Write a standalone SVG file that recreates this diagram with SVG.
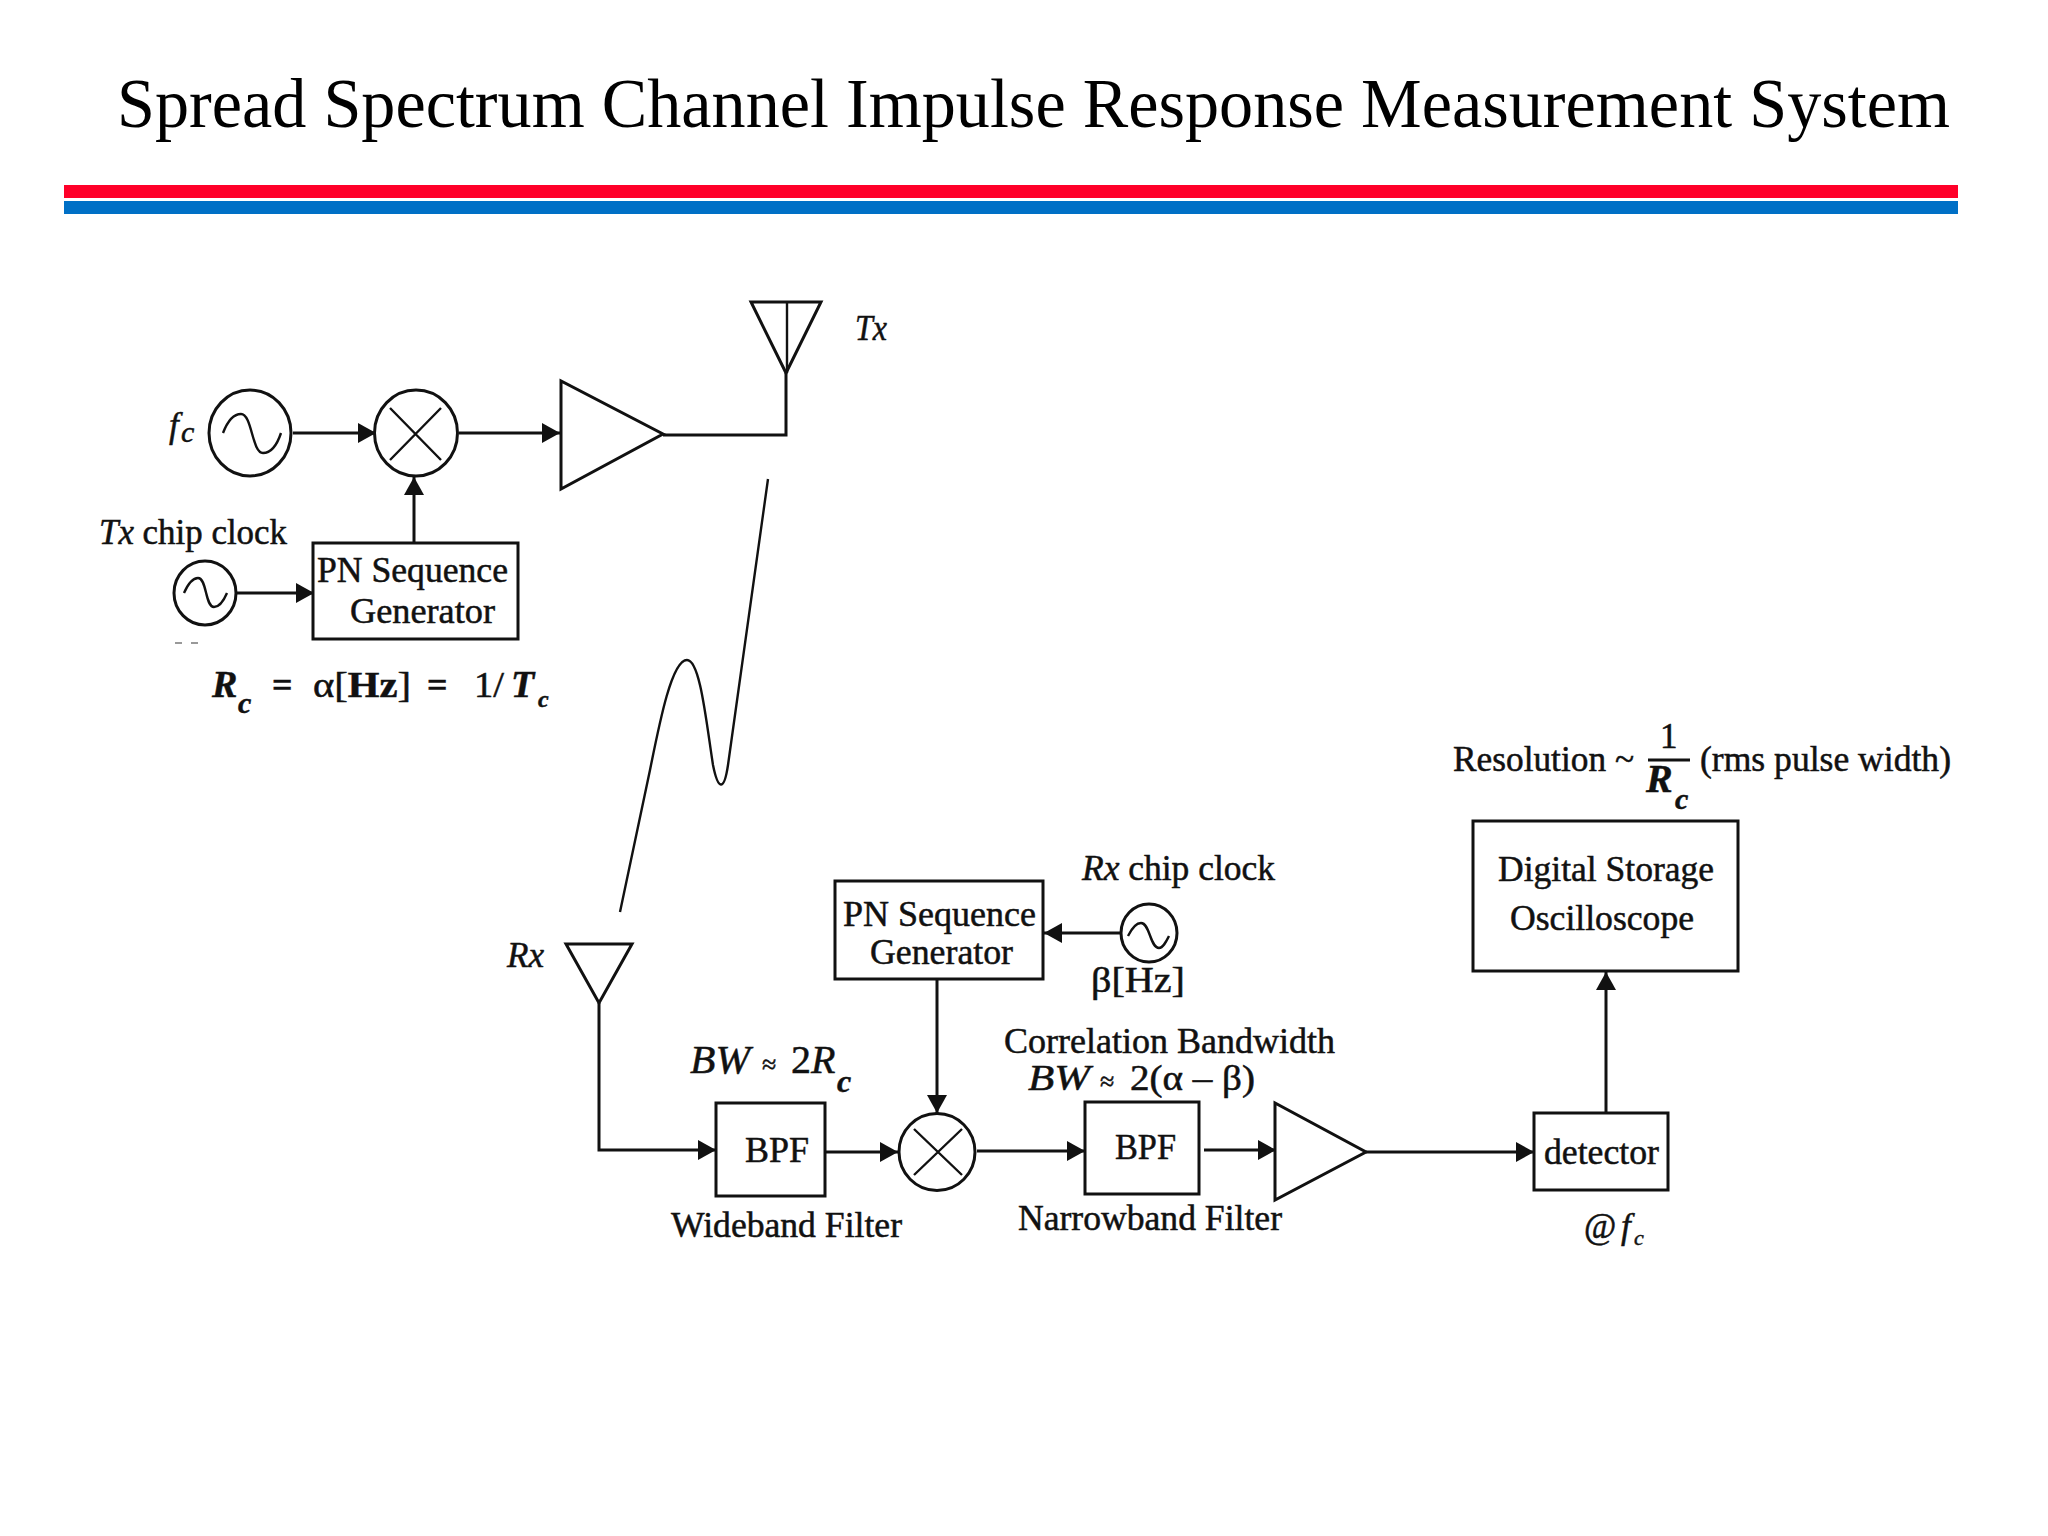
<svg xmlns="http://www.w3.org/2000/svg" width="2048" height="1536" viewBox="0 0 2048 1536">
<style>
text{font-family:"Liberation Serif","Times New Roman",serif;font-size:35px;fill:#111;stroke:#111;stroke-width:.5}
.title{font-size:70px;fill:#000;stroke:none}
.i{font-style:italic}
.b{font-weight:bold}
.sub{font-size:30px}
.s{fill:#fff;stroke:#111;stroke-width:3}
.t{fill:none;stroke:#111;stroke-width:2.4}
.c{fill:none;stroke:#111;stroke-width:3}
</style>
<defs>
<marker id="a" markerUnits="userSpaceOnUse" markerWidth="19" markerHeight="20" refX="18" refY="10" orient="auto"><path d="M0 0L18 10L0 20Z" fill="#111"/></marker>
</defs>
<rect width="2048" height="1536" fill="#fff"/>
<g id="header">
<text class="title" x="117" y="127" textLength="1833" lengthAdjust="spacingAndGlyphs">Spread Spectrum Channel Impulse Response Measurement System</text>
<rect x="64" y="185" width="1894" height="13" fill="#ff0029"/>
<rect x="64" y="201" width="1894" height="13" fill="#0070c6"/>
</g>
<g id="connectors">
<path class="c" marker-end="url(#a)" d="M293 433H376"/>
<path class="c" marker-end="url(#a)" d="M459 433H560"/>
<path class="c" marker-end="url(#a)" d="M414 543V477"/>
<path class="c" marker-end="url(#a)" d="M236 593H314"/>
<path class="c" d="M663 435H786V373"/>
<path class="t" d="M768 479L728 765C724 792 718 790 713 765C706 720 700 660 687 660C672 660 660 720 650 770L620 912"/>
<path class="c" marker-end="url(#a)" d="M599 1003V1150H716"/>
<path class="c" marker-end="url(#a)" d="M825 1152H898"/>
<path class="c" marker-end="url(#a)" d="M977 1151H1085"/>
<path class="c" marker-end="url(#a)" d="M1204 1150H1276"/>
<path class="c" marker-end="url(#a)" d="M937 979V1113"/>
<path class="c" marker-end="url(#a)" d="M1121 933H1044"/>
<path class="c" marker-end="url(#a)" d="M1366 1152H1534"/>
<path class="c" marker-end="url(#a)" d="M1606 1113V972"/>
</g>
<g id="tx-antenna">
<path class="s" d="M751 302H821L786 373Z"/><path class="t" d="M787 302V373"/>
<text class="i" x="855" y="340" textLength="32" lengthAdjust="spacingAndGlyphs">Tx</text>
</g>
<g id="fc-oscillator">
<ellipse class="s" cx="250" cy="433" rx="41" ry="43"/>
<path class="t" d="M223 433C228 420 234 414 241 414C252 414 252 453 263 453C271 453 277 445 281 433"/>
<text class="i" x="169" y="437">f</text><text class="i sub" x="181" y="442">c</text>
</g>
<g id="tx-mixer">
<ellipse class="s" cx="416" cy="433" rx="41.5" ry="43"/>
<path class="t" d="M390 408L441 460M441 408L390 460"/>
</g>
<g id="tx-amplifier"><path class="s" d="M561 381V489L663 434Z"/></g>
<g id="tx-clock">
<ellipse class="s" cx="205" cy="593" rx="31" ry="32"/>
<path class="t" d="M184 593C188 584 192 578 198 578C207 578 205 607 214 607C220 607 224 600 227 593"/>
<text x="99" y="544" textLength="188" lengthAdjust="spacingAndGlyphs"><tspan class="i">Tx</tspan> chip clock</text>
<path d="M175 643h7M191 643h7" stroke="#999" stroke-width="2" fill="none"/>
</g>
<g id="tx-pn-generator">
<rect class="s" x="313" y="543" width="205" height="96"/>
<text x="317" y="582" textLength="191" lengthAdjust="spacingAndGlyphs">PN Sequence</text>
<text x="350" y="623" textLength="145" lengthAdjust="spacingAndGlyphs">Generator</text>
</g>
<g id="rc-formula">
<text class="i b" x="212" y="697" style="font-size:38px">R</text><text class="i b sub" x="238" y="713">c</text>
<text class="b" x="272" y="697" style="font-size:36px">=</text>
<text x="313" y="697" textLength="98" lengthAdjust="spacingAndGlyphs">α[<tspan class="b">Hz</tspan>]</text>
<text class="b" x="427" y="697" style="font-size:36px">=</text>
<text x="474" y="697" textLength="30" lengthAdjust="spacingAndGlyphs">1/</text>
<text class="i b" x="511" y="697" style="font-size:38px">T</text><text class="i b" x="538" y="707" style="font-size:24px">c</text>
</g>
<g id="rx-antenna">
<path class="s" d="M566 944H632L599 1003Z"/>
<text class="i" x="507" y="967" textLength="37" lengthAdjust="spacingAndGlyphs">Rx</text>
</g>
<g id="wideband-bpf">
<rect class="s" x="716" y="1103" width="109" height="93"/>
<text x="745" y="1162" textLength="64" lengthAdjust="spacingAndGlyphs">BPF</text>
<text class="i" x="690" y="1073" style="font-size:40px" textLength="60" lengthAdjust="spacingAndGlyphs">BW</text>
<text x="762" y="1073" style="font-size:26px">≈</text>
<text x="791" y="1073" style="font-size:40px">2<tspan class="i">R</tspan></text>
<text class="i b" x="837" y="1092" style="font-size:32px">c</text>
<text x="671" y="1237" textLength="231" lengthAdjust="spacingAndGlyphs">Wideband Filter</text>
</g>
<g id="rx-mixer">
<ellipse class="s" cx="937" cy="1152" rx="38" ry="38.5"/>
<path class="t" d="M914 1129L962 1175M962 1129L914 1175"/>
</g>
<g id="rx-pn-generator">
<rect class="s" x="835" y="881" width="208" height="98"/>
<text x="843" y="926" textLength="193" lengthAdjust="spacingAndGlyphs">PN Sequence</text>
<text x="870" y="964" textLength="143" lengthAdjust="spacingAndGlyphs">Generator</text>
</g>
<g id="rx-clock">
<ellipse class="s" cx="1149" cy="933" rx="28" ry="29"/>
<path class="t" d="M1128 936C1132 928 1136 923 1141 923C1150 923 1150 948 1159 948C1163 948 1166 942 1169 936"/>
<text x="1082" y="880" textLength="193" lengthAdjust="spacingAndGlyphs"><tspan class="i">Rx</tspan> chip clock</text>
<text x="1091" y="992" textLength="94" lengthAdjust="spacingAndGlyphs">β[Hz]</text>
</g>
<g id="narrowband-bpf">
<rect class="s" x="1085" y="1102" width="114" height="92"/>
<text x="1115" y="1159" textLength="61" lengthAdjust="spacingAndGlyphs">BPF</text>
<text x="1004" y="1053" textLength="331" lengthAdjust="spacingAndGlyphs">Correlation Bandwidth</text>
<text class="i" x="1028" y="1090" textLength="62" lengthAdjust="spacingAndGlyphs">BW</text>
<text x="1100" y="1090" style="font-size:26px">≈</text>
<text x="1130" y="1090" textLength="125" lengthAdjust="spacingAndGlyphs">2(α – β)</text>
<text x="1018" y="1230" textLength="264" lengthAdjust="spacingAndGlyphs">Narrowband Filter</text>
</g>
<g id="rx-amplifier"><path class="s" d="M1275 1103V1200L1366 1152Z"/></g>
<g id="detector">
<rect class="s" x="1534" y="1113" width="134" height="77"/>
<text x="1544" y="1164" textLength="115" lengthAdjust="spacingAndGlyphs">detector</text>
<text x="1584" y="1238">@</text><text class="i" x="1621" y="1238">f</text><text class="i" x="1634" y="1245" style="font-size:22px">c</text>
</g>
<g id="oscilloscope">
<rect class="s" x="1473" y="821" width="265" height="150"/>
<text x="1498" y="881" textLength="216" lengthAdjust="spacingAndGlyphs">Digital Storage</text>
<text x="1510" y="930" textLength="184" lengthAdjust="spacingAndGlyphs">Oscilloscope</text>
</g>
<g id="resolution">
<text x="1453" y="771" textLength="181" lengthAdjust="spacingAndGlyphs">Resolution ~</text>
<text x="1660" y="748">1</text>
<path class="c" d="M1648 760H1690"/>
<text class="i b" x="1646" y="792" style="font-size:40px">R</text><text class="i b" x="1675" y="809" style="font-size:30px">c</text>
<text x="1700" y="771" textLength="251" lengthAdjust="spacingAndGlyphs">(rms pulse width)</text>
</g>
</svg>
